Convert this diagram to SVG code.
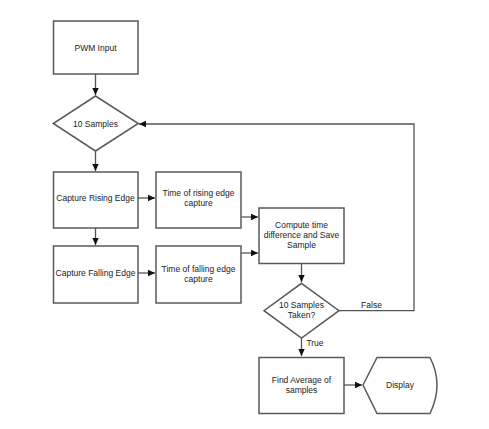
<svg xmlns="http://www.w3.org/2000/svg" width="489" height="429" viewBox="0 0 489 429">
<style>
.s{fill:#fff;stroke:#5a5a5a;stroke-width:1.5}
.c{fill:none;stroke:#555;stroke-width:1.3}
text{font-family:"Liberation Sans",Arial,sans-serif;font-size:8.5px;fill:#222;text-anchor:middle}
</style>
<defs>
<marker id="a" markerWidth="8" markerHeight="8" refX="7" refY="4" orient="auto" markerUnits="userSpaceOnUse">
<path d="M0,0.8 L7,4 L0,7.2 Z" fill="#111"/>
</marker>
</defs>
<rect width="489" height="429" fill="#fff"/>
<g id="connectors">
<path class="c" d="M95.5,74 V95" marker-end="url(#a)"/>
<path class="c" d="M95.5,151 V171" marker-end="url(#a)"/>
<path class="c" d="M95.5,228 V245" marker-end="url(#a)"/>
<path class="c" d="M138,198 H155" marker-end="url(#a)"/>
<path class="c" d="M138,273 H155" marker-end="url(#a)"/>
<path class="c" d="M241,217 H258" marker-end="url(#a)"/>
<path class="c" d="M241,253 H258" marker-end="url(#a)"/>
<path class="c" d="M301.5,263 V282" marker-end="url(#a)"/>
<path class="c" d="M339,310.7 H414 V124 H139" marker-end="url(#a)"/>
<path class="c" d="M301.5,338 V356" marker-end="url(#a)"/>
<path class="c" d="M344,385 H362" marker-end="url(#a)"/>
<text x="371.5" y="308">False</text>
<text x="315" y="345.5">True</text>
</g>
<g id="pwm"><rect class="s" x="53.5" y="21" width="84.5" height="53"/><text x="95.5" y="50.5">PWM Input</text></g>
<g id="samples"><path class="s" d="M95.5,96 L138.3,123.5 L95.5,151 L53.3,123.5 Z"/><text x="95.5" y="126.5">10 Samples</text></g>
<g id="rising"><rect class="s" x="53.5" y="172" width="84.5" height="56"/><text x="95.5" y="201">Capture Rising Edge</text></g>
<g id="falling"><rect class="s" x="53.5" y="246" width="84.5" height="57"/><text x="95.5" y="276">Capture Falling Edge</text></g>
<g id="trising"><rect class="s" x="156" y="172" width="85" height="56"/><text x="198.5" y="196">Time of rising edge</text><text x="198.5" y="206">capture</text></g>
<g id="tfalling"><rect class="s" x="156" y="246" width="85" height="57"/><text x="198.5" y="272">Time of falling edge</text><text x="198.5" y="282">capture</text></g>
<g id="compute"><rect class="s" x="259" y="208" width="85" height="55.5"/><text x="301.5" y="228">Compute time</text><text x="301.5" y="238">difference and Save</text><text x="301.5" y="248">Sample</text></g>
<g id="taken"><path class="s" d="M301.5,283.3 L339,310.7 L301.5,338 L264,310.7 Z"/><text x="301.5" y="308">10 Samples</text><text x="301.5" y="318">Taken?</text></g>
<g id="average"><rect class="s" x="259" y="357.5" width="85" height="56"/><text x="301.5" y="383">Find Average of</text><text x="301.5" y="393">samples</text></g>
<g id="display"><path class="s" d="M363,385 L377,357.5 H430 Q437,371 437,385 Q437,399 430,413.5 H377 Z"/><text x="400" y="388">Display</text></g>
</svg>
